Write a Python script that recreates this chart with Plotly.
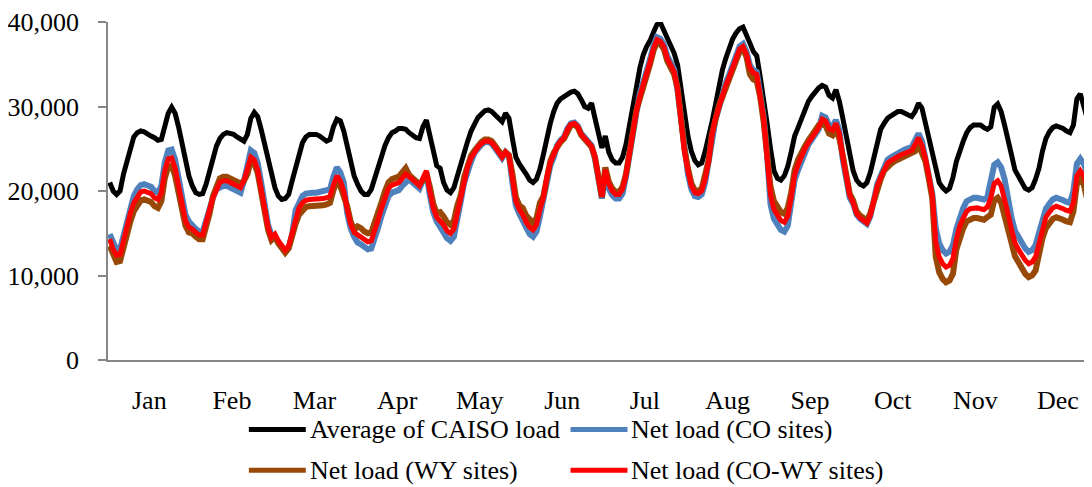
import plotly.graph_objects as go

months = ["Jan", "Feb", "Mar", "Apr", "May", "Jun", "Jul", "Aug", "Sep", "Oct", "Nov", "Dec"]
hours = list(range(24))

# average hourly load by month (MW), 24 values per month
caiso_load = [
    [21000, 20000, 19600, 20000, 22000, 23500, 25300, 26400, 26900, 27100, 27000, 26700, 26500, 26300, 26000, 26100, 27500, 29200, 29900, 29200, 27600, 25700, 23500, 21800],
    [20600, 19800, 19600, 19700, 20800, 22500, 24100, 25300, 26200, 26700, 26900, 26800, 26700, 26400, 26100, 25900, 26700, 28600, 29300, 28800, 27300, 25500, 23500, 21600],
    [20400, 19400, 19000, 19100, 19600, 21200, 22700, 24500, 25700, 26400, 26700, 26700, 26700, 26500, 26200, 25900, 26100, 27600, 28500, 28300, 27100, 25100, 23100, 21800],
    [20800, 20000, 19600, 19600, 20200, 21600, 22900, 24300, 25400, 26300, 26900, 27100, 27400, 27400, 27300, 26900, 26500, 26300, 26200, 27600, 28400, 26600, 24600, 23000],
    [22700, 21000, 20100, 19800, 20400, 21900, 23300, 24700, 25900, 27100, 28000, 28700, 29100, 29500, 29600, 29400, 29000, 28600, 28200, 29200, 28600, 26200, 24000, 23200],
    [22700, 22000, 21300, 21000, 21400, 22600, 24300, 26300, 28000, 29400, 30400, 30900, 31200, 31500, 31700, 31800, 31500, 30800, 30000, 29800, 30400, 28600, 26500, 25100],
    [26500, 24600, 23700, 23300, 23300, 24000, 25500, 27500, 29600, 32200, 34500, 36100, 37100, 37800, 38800, 39700, 39900, 39000, 37800, 37100, 36300, 34900, 31800, 28600],
    [26500, 24700, 23600, 23100, 23300, 24700, 26300, 28200, 30200, 32400, 34300, 35700, 37100, 38000, 38700, 39200, 39400, 38600, 37500, 36500, 36000, 33500, 31000, 28000],
    [25000, 22400, 21500, 21300, 21800, 22900, 24600, 26500, 27500, 28500, 29500, 30600, 31200, 31800, 32200, 32500, 32300, 31300, 31000, 32000, 30600, 28600, 26300, 24000],
    [22400, 21300, 20800, 20600, 21000, 22200, 24100, 25700, 27300, 28000, 28600, 28900, 29200, 29400, 29400, 29200, 29000, 28800, 29400, 30400, 29800, 28000, 26200, 24300],
    [22400, 21000, 20400, 20000, 20300, 21600, 23500, 24900, 25900, 26900, 27500, 27800, 27800, 27800, 27500, 27300, 27600, 29900, 30300, 29400, 27800, 26300, 24300, 22500],
    [21800, 20900, 20300, 20100, 20400, 21400, 22700, 24700, 26200, 27000, 27500, 27700, 27600, 27400, 27100, 26900, 27800, 30900, 31500, 30200, 28600, 26600, 25200, 24000],
]

net_co = [
    [14900, 13700, 13000, 13100, 14700, 16700, 18200, 19400, 20200, 20700, 20800, 20700, 20500, 20000, 19800, 20600, 23400, 24800, 24900, 23700, 21600, 19100, 17200, 16400],
    [15900, 15500, 15200, 15200, 16500, 18200, 19200, 20200, 20400, 20600, 20600, 20400, 20200, 20000, 19800, 21200, 23200, 24800, 24500, 23300, 21000, 17900, 16000, 14800],
    [14700, 13900, 13300, 12800, 13300, 14900, 17700, 18800, 19400, 19700, 19800, 19800, 19800, 19900, 19900, 20000, 20200, 21700, 22800, 22200, 21000, 17400, 15600, 14600],
    [13900, 13700, 13300, 13100, 13200, 14300, 15700, 17100, 18400, 19400, 19800, 20000, 20100, 20600, 21100, 21400, 21000, 20600, 20300, 21300, 22200, 19500, 17500, 16400],
    [15600, 15100, 14400, 14100, 14600, 16400, 18800, 21000, 22500, 23500, 24500, 25100, 25500, 25800, 25800, 25600, 25100, 24500, 23900, 24600, 24200, 21000, 18300, 17300],
    [16400, 15500, 14900, 14600, 15200, 17000, 18900, 21300, 23000, 24000, 25400, 26000, 26400, 27400, 28000, 28100, 27700, 26800, 26300, 25900, 25400, 23800, 21100, 19100],
    [22000, 20300, 19500, 19100, 19100, 19700, 21700, 24500, 26700, 29200, 31500, 32800, 34000, 35600, 37200, 38200, 38000, 37400, 36000, 35200, 34400, 31800, 28000, 24500],
    [22000, 20200, 19400, 19300, 19600, 21000, 23300, 26500, 28400, 29800, 31700, 32800, 33800, 35000, 36200, 37100, 37400, 36500, 34900, 34300, 34100, 31700, 28800, 24200],
    [18400, 16700, 15900, 15400, 15200, 15900, 18600, 21300, 22500, 23500, 24800, 25500, 26100, 26700, 27300, 28900, 28700, 27800, 27600, 28400, 27200, 23700, 21400, 19200],
    [18500, 17200, 16700, 16300, 16100, 17000, 19200, 20800, 21800, 22800, 23700, 24000, 24300, 24500, 24700, 24900, 25100, 25200, 26000, 26800, 25900, 24100, 22000, 19700],
    [15600, 13800, 13000, 12600, 12800, 13600, 15500, 17100, 18000, 18800, 19100, 19200, 19200, 19100, 19000, 19300, 21400, 23100, 23400, 22800, 21400, 18700, 16900, 15300],
    [14500, 13800, 13200, 12800, 13000, 13600, 14900, 16700, 17900, 18500, 19000, 19200, 19100, 18900, 18700, 18600, 20000, 23200, 23800, 23200, 22200, 20800, 19600, 18600],
]

net_wy = [
    [13500, 12300, 11600, 11700, 13300, 15300, 16400, 17600, 18400, 18900, 19000, 18900, 18700, 18200, 18000, 18800, 21500, 22900, 23000, 21800, 19700, 17800, 15900, 15100],
    [15000, 14600, 14300, 14300, 15600, 17300, 19400, 20400, 21500, 21700, 21700, 21500, 21300, 21100, 20900, 21200, 22000, 23600, 23300, 22100, 19800, 17300, 15400, 14200],
    [14600, 13800, 13200, 12700, 13200, 14800, 16100, 17200, 17800, 18100, 18200, 18200, 18200, 18300, 18300, 18400, 18600, 20100, 21200, 20600, 19400, 18200, 16400, 15400],
    [15800, 15600, 15200, 15000, 15100, 16200, 17300, 18700, 20000, 21000, 21400, 21600, 21700, 22200, 22700, 21900, 21500, 21100, 20800, 21200, 22100, 20500, 18500, 17400],
    [17500, 17000, 16300, 16000, 16500, 18300, 19500, 21700, 23200, 24200, 24800, 25400, 25800, 26100, 26100, 25900, 25400, 24800, 24200, 24600, 24200, 22000, 19300, 18300],
    [18000, 17100, 16500, 16200, 16800, 18600, 19400, 21800, 23500, 24500, 25200, 25800, 26200, 27200, 27800, 27900, 27500, 26600, 26100, 25700, 25200, 24000, 21300, 19300],
    [22800, 21100, 20300, 19900, 19900, 20500, 22000, 24800, 27000, 29500, 30900, 32200, 33400, 35000, 36600, 37600, 37400, 36800, 35400, 34600, 33800, 32200, 28400, 24900],
    [22700, 20900, 20100, 20000, 20300, 21700, 23600, 26800, 28700, 30100, 31100, 32200, 33200, 34400, 35600, 36500, 36800, 35900, 33800, 33200, 33000, 31100, 28200, 23600],
    [20500, 18800, 18000, 17500, 17300, 18000, 19800, 22500, 23700, 24700, 25300, 26000, 26600, 27200, 27800, 27900, 27700, 26800, 26600, 27400, 26200, 24200, 21900, 19700],
    [18900, 17600, 17100, 16700, 16500, 17400, 18800, 20400, 21400, 22400, 22900, 23200, 23500, 23700, 23900, 24100, 24300, 24400, 24700, 25500, 24600, 23500, 21400, 19100],
    [12200, 10400, 9600, 9200, 9400, 10200, 13100, 14700, 15600, 16400, 16700, 16800, 16800, 16700, 16600, 16900, 17200, 18900, 19200, 18600, 17200, 15700, 13900, 12300],
    [11500, 10800, 10200, 9800, 10000, 10600, 12600, 14400, 15600, 16200, 16700, 16900, 16800, 16600, 16400, 16300, 17600, 20800, 21400, 20800, 19000, 16800, 15800, 14800],
]

net_co_wy = [
    [14300, 13100, 12400, 12500, 14100, 16100, 17400, 18600, 19400, 19900, 20000, 19900, 19700, 19200, 19000, 19800, 22400, 23800, 23900, 22700, 20600, 18400, 16500, 15700],
    [15500, 15100, 14800, 14800, 16100, 17800, 19200, 20200, 21000, 21200, 21200, 21000, 20800, 20600, 20400, 21200, 22400, 24000, 23700, 22500, 20200, 17600, 15700, 14500],
    [14900, 14100, 13500, 13000, 13500, 15100, 16900, 18000, 18600, 18900, 19000, 19000, 19000, 19100, 19100, 19200, 19400, 20700, 21800, 21200, 20000, 17900, 16100, 15100],
    [14800, 14600, 14200, 14000, 14100, 15200, 16600, 18000, 19300, 20300, 20700, 20900, 21000, 21500, 22000, 21700, 21300, 20900, 20600, 21500, 22400, 20000, 18000, 16900],
    [16500, 16000, 15300, 15000, 15500, 17300, 19200, 21400, 22900, 23900, 24600, 25200, 25600, 25900, 25900, 25700, 25200, 24600, 24000, 24600, 24200, 21500, 18800, 17800],
    [17200, 16300, 15700, 15400, 16000, 17800, 19200, 21600, 23300, 24300, 25300, 25900, 26300, 27300, 27900, 28000, 27600, 26700, 26200, 25800, 25300, 24000, 21300, 19300],
    [22500, 20800, 20000, 19600, 19600, 20200, 21900, 24700, 26900, 29400, 31200, 32500, 33700, 35300, 36900, 37900, 37700, 37100, 35700, 34900, 34100, 32000, 28200, 24700],
    [22400, 20600, 19800, 19700, 20000, 21400, 23500, 26700, 28600, 30000, 31400, 32500, 33500, 34700, 35900, 36800, 37100, 36200, 34600, 34000, 33800, 31500, 28600, 24000],
    [19500, 17800, 17000, 16500, 16300, 17000, 19200, 21900, 23100, 24100, 25000, 25700, 26300, 26900, 27500, 28500, 28300, 27400, 27200, 28000, 26800, 24000, 21700, 19500],
    [18600, 17300, 16800, 16400, 16200, 17100, 19000, 20600, 21600, 22600, 23300, 23600, 23900, 24100, 24300, 24500, 24700, 24800, 25500, 26300, 25400, 23900, 21800, 19500],
    [14000, 12200, 11400, 11000, 11200, 12000, 14300, 15900, 16800, 17600, 17900, 18000, 18000, 17900, 17800, 18100, 19200, 20900, 21200, 20600, 19200, 17300, 15500, 13900],
    [13100, 12400, 11800, 11400, 11600, 12200, 13900, 15700, 16900, 17500, 18000, 18200, 18100, 17900, 17700, 17600, 18600, 21800, 22400, 21800, 20600, 19300, 18200, 17200],
]

series = [
    ("Average of CAISO load", caiso_load, "#000000", 5),
    ("Net load (CO sites)", net_co, "#4F81BD", 6),
    ("Net load (WY sites)", net_wy, "#984807", 6),
    ("Net load (CO-WY sites)", net_co_wy, "#FF0000", 5),
]

xs = [m * 24 + h for m in range(len(months)) for h in hours]
font = "Liberation Serif, Times New Roman, serif"

# the page body keeps its default 8px margin, so the figure is sized to sit
# inside the 1092x487 window with the plot area where the reference has it
fig_w, fig_h = 1084, 479
plot_l, plot_t, plot_b = 99, 12, 127
plot_w = fig_w - plot_l
plot_h = fig_h - plot_t - plot_b

fig = go.Figure()
for name, vals, color, w in series:
    ys = [v for month in vals for v in month]
    fig.add_trace(go.Scatter(x=xs, y=ys, mode="lines", name=name,
                             line=dict(color=color, width=w)))

# legend drawn by hand: 2 x 2 grid with long line samples (figure pixels)
leg_pos = [(240, 422), (562, 422), (240, 463), (562, 463)]
for (name, vals, color, w), (px, py) in zip(series, leg_pos):
    x0 = (px - plot_l) / plot_w
    x1 = (px + 57 - plot_l) / plot_w
    yy = (plot_t + plot_h - py) / plot_h
    fig.add_shape(type="line", xref="paper", yref="paper", x0=x0, x1=x1, y0=yy, y1=yy,
                  line=dict(color=color, width=5))
    fig.add_annotation(x=x1 + 0.002, y=yy, xref="paper", yref="paper", text=name,
                       showarrow=False, xanchor="left", yanchor="middle",
                       font=dict(family=font, size=26, color="black"))

fig.update_layout(
    width=fig_w, height=fig_h,
    margin=dict(l=plot_l, r=0, t=plot_t, b=plot_b),
    paper_bgcolor="white", plot_bgcolor="white",
    showlegend=False,
    font=dict(family=font, size=26, color="black"),
)
fig.update_xaxes(
    range=[-0.5, 285.4],
    tickvals=[m * 24 + 11.5 for m in range(12)], ticktext=months,
    showline=True, linecolor="#868686", linewidth=1.5,
    ticks="outside", ticklen=16, tickcolor="rgba(0,0,0,0)",
    showgrid=False, zeroline=False,
)
fig.update_yaxes(
    range=[0, 40000], tickvals=[0, 10000, 20000, 30000, 40000], tickformat=",",
    showline=True, linecolor="#868686", linewidth=1.5,
    ticks="outside", ticklen=8, tickcolor="#868686", tickwidth=1.5,
    ticklabelstandoff=14, ticklabeloverflow="allow",
    showgrid=False, zeroline=False,
)

fig.write_html("out.html")
